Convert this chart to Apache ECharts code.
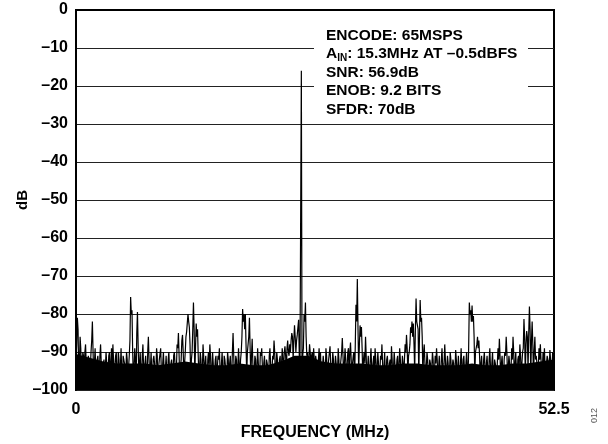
<!DOCTYPE html>
<html>
<head>
<meta charset="utf-8">
<script src="https://cdn.jsdelivr.net/npm/echarts@6/dist/echarts.min.js"></script>
<style>html,body{margin:0;padding:0;background:#fff}#c{width:608px;height:444px}</style>
</head>
<body>
<div id="c"></div>
<script>
// Frequency step between FFT bins (MHz) and magnitudes (dB)
const freqStep = 0.15;
const xTicks = [0, 52.5];
const yTicks = [0, -10, -20, -30, -40, -50, -60, -70, -80, -90, -100];
const magnitudes = [
  -92, -81, -96, -86, -97, -90, -96, -88, -97, -91,
  -98, -90, -82, -97, -89, -99, -91, -97, -88, -99,
  -93, -98, -90, -99, -91, -97, -89, -88, -98, -91,
  -99, -90, -97, -89, -99, -92, -98, -90, -99, -91,
  -75.5, -79, -97, -89, -98, -79.5, -96, -90, -99, -88,
  -97, -91, -99, -86, -97, -90, -99, -91, -98, -89,
  -100, -92, -89, -98, -90, -99, -91, -97, -90, -99,
  -92, -98, -90, -97, -88, -85, -98, -92, -85.5, -96,
  -90, -84.7, -80, -83.5, -97, -90, -77, -96, -82.5, -84,
  -97, -90, -99, -88, -98, -91, -99, -90, -88, -97,
  -90, -99, -92, -98, -91, -89, -98, -90, -99, -92,
  -98, -90, -99, -91, -97, -85, -98, -91, -99, -89,
  -97, -90, -78.7, -80, -80, -96, -88, -81, -97, -86.5,
  -98, -91, -99, -89, -97, -90, -89, -98, -91, -99,
  -92, -98, -89, -99, -91, -87, -97, -90, -99, -92,
  -97, -89, -95, -88.5, -96, -87, -91, -90, -85, -92,
  -83, -90, -85.5, -81.5, -93, -16, -93, -80, -77, -91,
  -95, -88, -94, -90, -89, -95, -91, -96, -89, -90,
  -98, -91, -99, -89, -97, -92, -88.5, -98, -90, -99,
  -91, -97, -89, -99, -92, -86.3, -97, -89, -98, -90,
  -99, -87.5, -96, -91, -97, -77.6, -70.8, -95, -83, -83.4,
  -97, -90, -86, -98, -91, -99, -89, -97, -91, -89,
  -98, -90, -99, -91, -88, -98, -90, -99, -91, -97,
  -92, -88.5, -98, -90, -99, -92, -97, -89, -99, -91,
  -97, -88, -85.5, -96, -90, -83.5, -82, -82.5, -95, -75.9,
  -82, -96, -76.3, -81, -97, -88, -98, -90, -99, -92,
  -97, -90, -99, -91, -89, -98, -91, -99, -89, -97,
  -88, -98, -91, -99, -90, -97, -92, -99, -89.5, -98,
  -91, -99, -89, -97, -91, -99, -90, -98, -77, -79,
  -77.8, -80.5, -96, -90, -86, -87, -97, -91, -99, -90,
  -98, -91, -99, -89, -97, -90, -99, -92, -98, -89,
  -86.5, -98, -91, -99, -90, -86, -97, -91, -99, -89,
  -86, -98, -90, -99, -91, -88, -97, -90, -81.3, -96,
  -84.5, -95, -78, -96, -82, -97, -86, -91, -98, -89,
  -88, -97, -90, -89, -98, -91, -97, -89.5, -99, -90,
  -91
];
// Magnitudes (dB) of the bins lying halfway between the bins above
const midMagnitudes = [
  -88, -84, -93, -89, -94, -91, -90, -93, -95, -92,
  -94, -87, -90, -93, -95, -92, -94, -91, -93, -95,
  -92, -94, -93, -95, -90, -93, -96, -92, -94, -90,
  -95, -92, -94, -96, -91, -93, -95, -92, -94, -87,
  -80, -90, -94, -92, -85, -88, -93, -95, -91, -94,
  -93, -95, -90, -92, -94, -96, -92, -93, -95, -91,
  -94, -92, -95, -93, -90, -94, -96, -92, -95, -93,
  -95, -91, -93, -95, -89, -91, -94, -87, -90, -93,
  -86, -85, -82, -88, -92, -84, -84, -89, -86, -91,
  -94, -92, -95, -91, -93, -96, -92, -94, -91, -95,
  -93, -95, -91, -94, -92, -95, -93, -96, -91, -94,
  -95, -92, -93, -96, -90, -91, -95, -92, -94, -93,
  -92, -86, -82, -84, -88, -90, -86, -89, -91, -93,
  -95, -92, -94, -93, -96, -91, -94, -93, -95, -92,
  -94, -91, -93, -95, -92, -90, -94, -92, -95, -91,
  -93, -92, -90, -91, -89, -90, -88, -87, -86, -87,
  -86, -87, -85, -91, -93, -93, -89, -82, -86, -90,
  -92, -90, -91, -93, -92, -91, -94, -92, -93, -95,
  -94, -93, -96, -91, -94, -92, -93, -95, -92, -94,
  -93, -95, -92, -94, -90, -91, -93, -92, -94, -89,
  -90, -92, -93, -90, -88, -82, -84, -88, -86, -89,
  -92, -93, -91, -94, -95, -92, -94, -93, -95, -92,
  -94, -93, -95, -92, -93, -94, -96, -92, -94, -93,
  -95, -92, -94, -93, -95, -91, -94, -92, -95, -93,
  -92, -90, -89, -91, -88, -85, -86, -88, -84, -82,
  -84, -86, -82, -86, -90, -93, -94, -92, -95, -93,
  -94, -92, -95, -93, -92, -94, -96, -92, -94, -93,
  -92, -94, -93, -95, -92, -94, -93, -95, -92, -94,
  -95, -93, -94, -92, -95, -93, -94, -89, -80, -82,
  -82, -86, -90, -88, -89, -91, -93, -95, -92, -94,
  -93, -95, -92, -94, -93, -95, -92, -94, -93, -92,
  -91, -93, -95, -92, -91, -90, -94, -93, -95, -92,
  -90, -93, -95, -92, -94, -91, -93, -89, -86, -88,
  -86, -85, -84, -87, -88, -90, -92, -93, -94, -92,
  -92, -94, -93, -95, -93, -92, -94, -92, -95, -93
];
// Top of the solid black noise body (dB), every 1.5 MHz
const bodyStep = 1.5;
const noiseBody = [
  -90.5, -91.5, -92.5, -93, -93, -93, -93.5, -93, -92.5, -93,
  -93.5, -93.5, -93, -93.5, -93.5, -92.5, -91, -91, -92.5, -93,
  -93, -93, -93.5, -93.5, -93, -93, -93.5, -93.5, -93.5, -93,
  -93.5, -93.5, -93, -93, -92.5, -92
];
const infoLines = ['ENCODE: 65MSPS', 'A{sub|IN}: 15.3MHz AT \u20130.5dBFS', 'SNR: 56.9dB', 'ENOB: 9.2 BITS', 'SFDR: 70dB'];

const data = [];
magnitudes.forEach((v, i) => {
  data.push([+(i * freqStep).toFixed(3), v]);
  if (i < midMagnitudes.length) data.push([+((i + 0.5) * freqStep).toFixed(3), midMagnitudes[i]]);
});
const bodyData = noiseBody.map((v, i) => [+(i * bodyStep).toFixed(3), v]);
const font = 'Arial, "Liberation Sans", Helvetica, sans-serif';
const chart = echarts.init(document.getElementById('c'), null, {renderer: 'canvas'});
chart.setOption({
  animation: false,
  backgroundColor: '#fff',
  grid: {left: 76, right: 54, top: 10, bottom: 54, containLabel: false, outerBoundsMode: 'none',
    show: true, borderColor: '#000', borderWidth: 2, backgroundColor: 'transparent'},
  xAxis: {
    type: 'value', min: xTicks[0], max: xTicks[1], interval: xTicks[1] - xTicks[0],
    name: 'FREQUENCY (MHz)', nameLocation: 'middle', nameGap: 35, nameMoveOverlap: false,
    nameTextStyle: {fontFamily: font, fontWeight: 'bold', fontSize: 16, color: '#000'},
    axisLine: {lineStyle: {color: '#000', width: 2}},
    axisTick: {show: false},
    splitLine: {show: false},
    axisLabel: {fontFamily: font, fontWeight: 'bold', fontSize: 16, color: '#000', margin: 12}
  },
  yAxis: {
    type: 'value', min: yTicks[yTicks.length - 1], max: yTicks[0], interval: 10,
    name: 'dB', nameLocation: 'middle', nameGap: 46, nameRotate: 90, nameMoveOverlap: false,
    nameTextStyle: {fontFamily: font, fontWeight: 'bold', fontSize: 15, color: '#000'},
    axisLine: {lineStyle: {color: '#000', width: 2}},
    axisTick: {show: false},
    splitLine: {lineStyle: {color: '#222', width: 1}},
    axisLabel: {fontFamily: font, fontWeight: 'bold', fontSize: 16, color: '#000', margin: 8,
      formatter: v => v < 0 ? '\u2013' + Math.abs(v) : String(v)}
  },
  series: [
    {type: 'line', data: bodyData, showSymbol: false, symbol: 'none',
      lineStyle: {width: 0}, areaStyle: {color: '#000', opacity: 1, origin: 'start'}, z: 2},
    {type: 'line', data: data, showSymbol: false, symbol: 'none', sampling: false,
      lineStyle: {color: '#000', width: 1.2}, z: 3}
  ],
  graphic: [
    {type: 'rect', left: 314, top: 22, shape: {width: 214, height: 96}, style: {fill: '#fff'}, z: 10},
    {type: 'text', left: 326, top: 26, z: 11,
      style: {text: infoLines.join('\n'), fontFamily: font, fontWeight: 'bold', fontSize: 15.5, lineHeight: 18.6, fill: '#000',
        rich: {sub: {fontSize: 10, fontWeight: 'bold', fontFamily: font, verticalAlign: 'bottom', padding: [6, 0, 0, 0], lineHeight: 18.6}}}},
    {type: 'text', left: 590, top: 408, rotation: Math.PI / 2, z: 11,
      style: {text: '012', fontFamily: font, fontSize: 9, fill: '#555'}}
  ]
});
</script>
</body>
</html>
